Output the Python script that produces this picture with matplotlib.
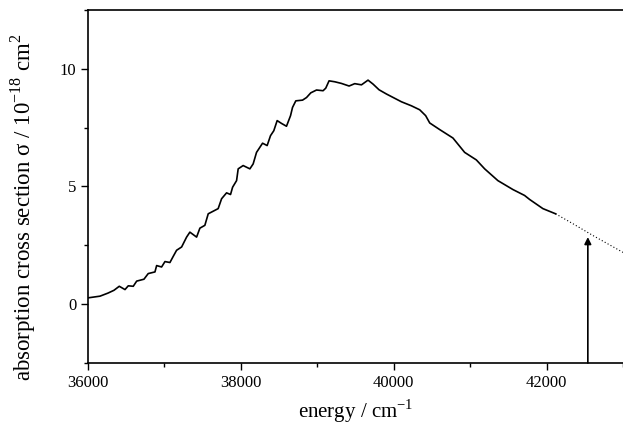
import matplotlib
matplotlib.use("Agg")
from matplotlib import pyplot as plt
from matplotlib.ticker import MultipleLocator

# measured spectrum (solid part)
energy = [36004, 36157, 36261, 36340, 36409, 36484, 36527, 36592, 36637, 36732,
          36788, 36876, 36898, 36963, 37007, 37072, 37115, 37159, 37225, 37290,
          37333, 37421, 37464, 37529, 37573, 37703, 37748, 37813, 37865, 37892,
          37944, 37965, 38030, 38118, 38161, 38205, 38284, 38344, 38388, 38431,
          38475, 38532, 38597, 38650, 38676, 38719, 38807, 38859, 38915, 38990,
          39076, 39111, 39154, 39229, 39316, 39416, 39490, 39578, 39664, 39730,
          39808, 39905, 40101, 40231, 40340, 40418, 40471, 40601, 40775, 40928,
          41081, 41190, 41363, 41560, 41712, 41778, 41952, 42118]
sigma = [0.27, 0.34, 0.47, 0.59, 0.76, 0.62, 0.78, 0.76, 0.98, 1.06,
         1.30, 1.37, 1.64, 1.58, 1.81, 1.77, 2.03, 2.29, 2.43, 2.85,
         3.06, 2.85, 3.23, 3.35, 3.84, 4.06, 4.48, 4.73, 4.66, 4.97,
         5.25, 5.75, 5.89, 5.75, 5.96, 6.45, 6.84, 6.74, 7.16, 7.37,
         7.80, 7.68, 7.56, 8.01, 8.36, 8.64, 8.67, 8.78, 8.98, 9.10,
         9.07, 9.18, 9.49, 9.45, 9.38, 9.27, 9.37, 9.32, 9.52, 9.35,
         9.11, 8.93, 8.60, 8.43, 8.26, 8.01, 7.70, 7.42, 7.06, 6.45,
         6.13, 5.75, 5.25, 4.87, 4.62, 4.45, 4.06, 3.84]

# extrapolated part (dotted)
energy_ext = [42118, 42344, 42605, 43000]
sigma_ext = [3.84, 3.42, 2.92, 2.20]

# arrow marking the excitation energy
arrow_energy = 42540
arrow_top = 2.85

plt.rcParams['font.family'] = ['Liberation Serif', 'DejaVu Serif']
plt.rcParams['mathtext.fontset'] = 'custom'
plt.rcParams['mathtext.rm'] = 'Liberation Serif'

fig = plt.figure(figsize=(6.23, 4.30), dpi=100)
ax = fig.add_axes([88/623, 1-363/430, 535/623, 353/430])

ax.plot(energy, sigma, c="black", lw=1.2)
ax.plot(energy_ext, sigma_ext, c="black", lw=0.8, ls=(0, (1, 2)))
ax.annotate("", xy=(arrow_energy, arrow_top), xytext=(arrow_energy, -2.5),
            arrowprops=dict(arrowstyle="-|>", color="black", lw=1.2,
                            mutation_scale=10, shrinkA=0, shrinkB=0))

ax.set_xlim(36000, 43000)
ax.set_ylim(-2.5, 12.5)
ax.xaxis.set_major_locator(MultipleLocator(2000))
ax.xaxis.set_minor_locator(MultipleLocator(1000))
ax.yaxis.set_major_locator(MultipleLocator(5))
ax.yaxis.set_minor_locator(MultipleLocator(2.5))
ax.tick_params(axis="both", which="major", labelsize=12, direction="out", length=5, width=1)
ax.tick_params(axis="both", which="minor", direction="out", length=3, width=1)
ax.spines['right'].set_visible(False)
for s in ['left', 'bottom', 'top']:
    ax.spines[s].set_linewidth(1.2)

ax.set_xlabel("energy / cm$^{\\mathrm{-1}}$", fontsize=15, labelpad=5)
ax.set_ylabel("absorption cross section σ / 10$^{\\mathrm{-18}}$ cm$^{\\mathrm{2}}$", fontsize=16.5)
ax.yaxis.set_label_coords(-0.093, 0.44)

fig.savefig("out.png", dpi=100)
